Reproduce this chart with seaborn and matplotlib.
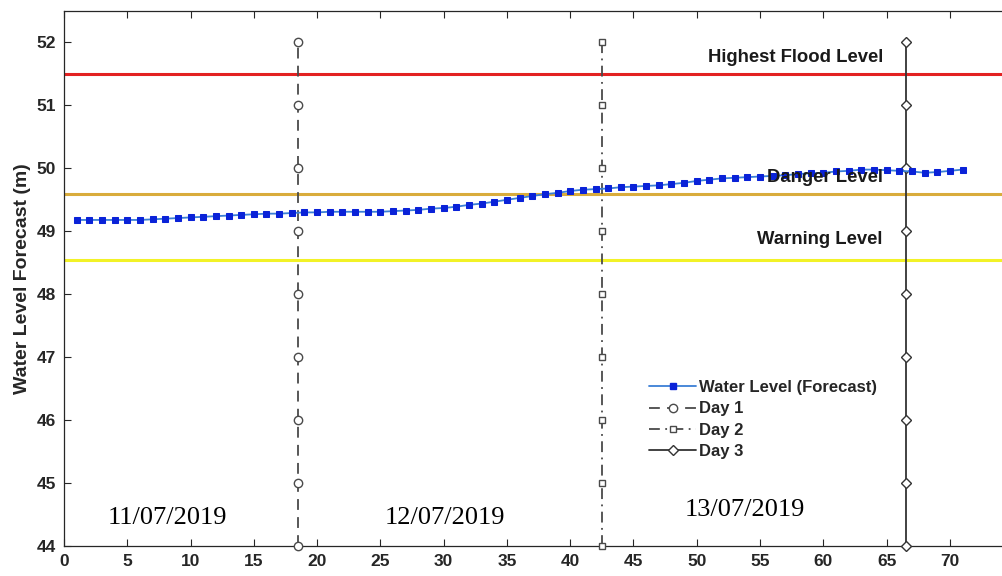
import numpy as np
import pandas as pd
import matplotlib
matplotlib.use("Agg")
import matplotlib.pyplot as plt
from matplotlib.lines import Line2D
import seaborn as sns

# ---- data ----
hours = list(range(1, 72))
water_level = [49.18, 49.18, 49.18, 49.18, 49.18, 49.18, 49.19, 49.20, 49.21, 49.22,
               49.23, 49.24, 49.25, 49.26, 49.27, 49.28, 49.28, 49.29, 49.30, 49.30,
               49.31, 49.31, 49.31, 49.31, 49.31, 49.32, 49.33, 49.34, 49.36, 49.37,
               49.39, 49.42, 49.44, 49.47, 49.50, 49.53, 49.56, 49.59, 49.61, 49.64,
               49.66, 49.67, 49.68, 49.70, 49.71, 49.72, 49.73, 49.75, 49.77, 49.80,
               49.82, 49.84, 49.85, 49.86, 49.87, 49.88, 49.89, 49.91, 49.92, 49.93,
               49.95, 49.96, 49.98, 49.98, 49.97, 49.96, 49.95, 49.93, 49.94, 49.96,
               49.98]
day_names = ["Day 1", "Day 2", "Day 3"]
day_positions = [18.5, 42.5, 66.5]
day_marker_levels = [44, 45, 46, 47, 48, 49, 50, 51, 52]
level_names = ["Highest Flood Level", "Danger Level", "Warning Level"]
level_values = [51.5, 49.6, 48.55]
level_label_x = 64.7
level_label_y = [51.76, 49.85, 48.87]
date_labels = ["11/07/2019", "12/07/2019", "13/07/2019"]
date_label_x = [8.2, 30.1, 53.8]
date_label_y = [44.44, 44.44, 44.57]
x_ticks = list(range(0, 75, 5))
y_ticks = list(range(44, 53))

sns.set_theme(style="white")
plt.rcParams['font.family'] = ['Liberation Sans', 'DejaVu Sans']

fig = plt.figure(figsize=(10.03, 5.76), dpi=100)
ax = fig.add_axes([0.0638, 0.052, 0.94, 0.929])

level_colors = ["#e32222", "#d9ac3c", "#f2f227"]
for val, c in zip(level_values, level_colors):
    ax.axhline(val, color=c, lw=2.2, zorder=1)

day_styles = [((0, (6, 4)), "o", 6, "#4a4a4a"),
              ((0, (6, 3, 1, 3)), "s", 5, "#4a4a4a"),
              ("-", "D", 5.3, "#333333")]
day_handles = []
for name, xpos, (ls, mk, ms, col) in zip(day_names, day_positions, day_styles):
    ax.plot([xpos] * len(day_marker_levels), day_marker_levels, color=col,
            lw=1.3, ls=ls, marker=mk, ms=ms,
            mfc="white", mec=col, mew=1.0, zorder=3, clip_on=False)
    day_handles.append(Line2D([], [], color=col, lw=1.3, ls=ls, marker=mk,
                              ms=ms, mfc="white", mec=col, mew=1.0, label=name))

df = pd.DataFrame({"hour": hours, "level": water_level})
sns.lineplot(data=df, x="hour", y="level", ax=ax, color="#3b7fd6", lw=1.3,
             marker="s", markersize=5, markerfacecolor="#0a22d8",
             markeredgecolor="#0a22d8", zorder=4)

for name, yv in zip(level_names, level_label_y):
    ax.text(level_label_x, yv, name, ha="right", va="center", fontsize=13.3,
            fontweight="bold", color="#1a1a1a", zorder=5)

for lab, xv, yv in zip(date_labels, date_label_x, date_label_y):
    ax.text(xv, yv, lab, ha="center", va="center", fontsize=19,
            family=["Liberation Serif", "DejaVu Serif"], color="black")

ax.set_xlim(0, 74.5)
ax.set_ylim(44, 52.5)
ax.set_xticks(x_ticks)
ax.set_yticks(y_ticks)
ax.tick_params(direction="in", length=5, width=0.8, colors="#262626",
               top=True, bottom=True, left=True, right=False,
               labelsize=12.5, pad=6)
for lbl in ax.get_xticklabels() + ax.get_yticklabels():
    lbl.set_fontweight("bold")
    lbl.set_color("#262626")
ax.set_xlabel("")
ax.set_ylabel("Water Level Forecast (m)", fontsize=14, fontweight="bold",
              color="#262626", labelpad=4)
for side in ["left", "bottom", "top"]:
    ax.spines[side].set_color("#262626")
    ax.spines[side].set_linewidth(0.9)
ax.spines["right"].set_visible(False)

main_handle = Line2D([], [], color="#3b7fd6", lw=1.3, marker="s", ms=5,
                     mfc="#0a22d8", mec="#0a22d8", label="Water Level (Forecast)")
leg = ax.legend(handles=[main_handle] + day_handles, loc="upper left",
                bbox_to_anchor=(0.621, 0.31), frameon=False,
                prop={"weight": "bold", "size": 12}, handlelength=2.8,
                handletextpad=0.2, labelspacing=0.38, borderpad=0.0,
                borderaxespad=0.0)

fig.savefig("out.png", dpi=100, facecolor="white")
